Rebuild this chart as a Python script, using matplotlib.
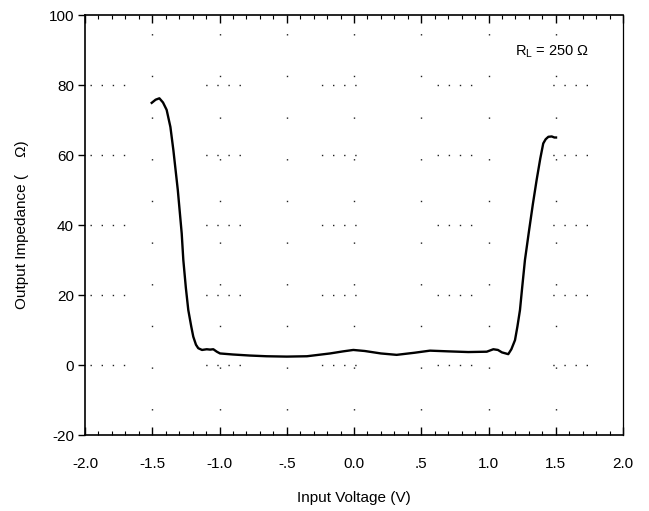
import matplotlib.pyplot as plt
from matplotlib.ticker import FixedLocator, MultipleLocator

plt.rcParams['font.family'] = ['Liberation Sans', 'DejaVu Sans']

# curve: input voltage (V) vs output impedance (ohm)
volts = [-1.504, -1.475, -1.447, -1.42, -1.393, -1.365, -1.343, -1.31, -1.281,
         -1.269, -1.25, -1.232, -1.21, -1.195, -1.175, -1.158, -1.13, -1.095,
         -1.07, -1.046, -1.02, -0.996, -0.9, -0.773, -0.65, -0.5, -0.35, -0.178,
         -0.08, -0.005, 0.08, 0.2, 0.317, 0.45, 0.565, 0.7, 0.85, 0.987, 1.036,
         1.07, 1.1, 1.147, 1.17, 1.197, 1.215, 1.234, 1.25, 1.271, 1.3, 1.33,
         1.358, 1.385, 1.407, 1.425, 1.445, 1.47, 1.49, 1.502]
impedance = [74.9, 75.8, 76.2, 75.0, 72.9, 68.0, 61.4, 50.0, 37.6,
             30.0, 22.0, 15.7, 11.0, 8.1, 5.8, 4.8, 4.3, 4.5,
             4.4, 4.5, 3.8, 3.3, 3.0, 2.7, 2.5, 2.4, 2.5, 3.3,
             3.9, 4.3, 4.0, 3.3, 2.9, 3.5, 4.1, 3.9, 3.7, 3.8, 4.5,
             4.3, 3.6, 3.1, 4.5, 7.1, 11.0, 15.7, 22.0, 30.0, 38.0, 46.0,
             52.9, 59.0, 63.3, 64.5, 65.2, 65.3, 65.0, 65.0]

x_ticks = [-2.0, -1.5, -1.0, -0.5, 0.0, 0.5, 1.0, 1.5, 2.0]
x_labels = ['-2.0', '-1.5', '-1.0', '-.5', '0.0', '.5', '1.0', '1.5', '2.0']
y_ticks = [-20, 0, 20, 40, 60, 80, 100]
y_labels = ['-20', '0', '20', '40', '60', '80', '100']

fig = plt.figure(figsize=(6.49, 5.11), dpi=100)
ax = fig.add_axes([85 / 649, 1 - 435 / 511, 538 / 649, 420 / 511])

# sparse dotted grid, like the scanned original
# vertical: lone dots far apart; horizontal: groups of four dots
for xv in x_ticks[1:-1]:
    ax.axvline(xv, color='#222222', lw=1.0, ls=(12, (1, 29)), zorder=1)
for yv in y_ticks[1:-1]:
    ax.axhline(yv, color='#222222', lw=1.0,
               ls=(79.7, (1, 7, 1, 7, 1, 7, 1, 58.3)), zorder=1)

ax.plot(volts, impedance, color='black', lw=1.7, zorder=3)

ax.text(1.2, 89.5, r'R$_{\mathregular{L}}$ = 250 Ω', fontsize=10.5, va='center')

ax.set_xlim(-2.0, 2.0)
ax.set_ylim(-20, 100)
ax.xaxis.set_major_locator(FixedLocator(x_ticks))
ax.set_xticklabels(x_labels)
ax.xaxis.set_minor_locator(MultipleLocator(0.1))
ax.yaxis.set_major_locator(FixedLocator(y_ticks))
ax.set_yticklabels(y_labels)

ax.tick_params(axis='x', which='both', direction='in', top=True, bottom=True,
               labelsize=11, pad=16)
ax.tick_params(axis='x', which='major', length=6, width=1.0)
ax.tick_params(axis='x', which='minor', length=3, width=0.8)
ax.tick_params(axis='y', which='major', direction='out', length=5, width=1.0,
               labelsize=11, pad=3)

for side in ['left', 'bottom', 'top']:
    ax.spines[side].set_linewidth(1.2)
ax.spines['right'].set_linewidth(0.9)

ax.set_xlabel('Input Voltage (V)', fontsize=11, labelpad=14)
ax.set_ylabel('Output Impedance (    Ω)', fontsize=11, labelpad=14)

fig.savefig('out.png', dpi=100)
